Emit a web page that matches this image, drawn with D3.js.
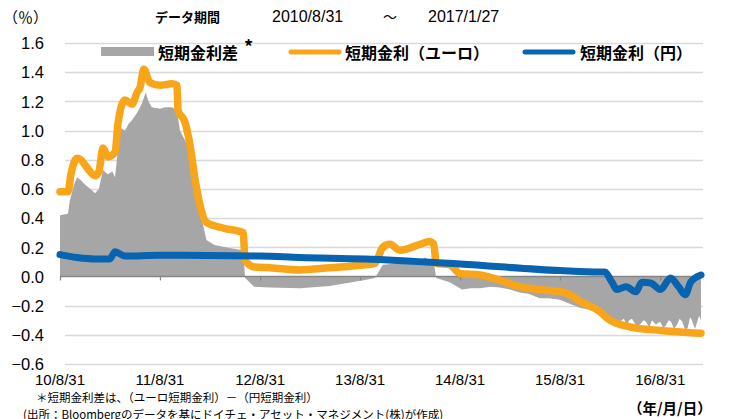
<!DOCTYPE html>
<html><head><meta charset="utf-8">
<script src="https://cdn.jsdelivr.net/npm/d3@7"></script>
<style>
body{margin:0;background:#fff;}
svg{display:block;}
</style></head>
<body>
<svg id="c" width="729" height="419"></svg>
<script>
// ---- data ----
const euroDates = ["2010-08-31","2010-09-29","2010-10-10","2010-11-01","2010-11-15","2010-12-10","2011-01-06","2011-01-20","2011-02-04","2011-02-22","2011-03-20","2011-03-31","2011-04-25","2011-05-21","2011-06-08","2011-06-20","2011-07-03","2011-07-25","2011-08-31","2011-10-13","2011-11-01","2011-11-05","2011-11-30","2011-12-18","2012-01-05","2012-01-23","2012-02-17","2012-04-22","2012-06-30","2012-07-07","2012-08-09","2012-10-06","2013-01-23","2013-05-12","2013-09-18","2013-10-24","2013-11-22","2013-12-18","2014-01-23","2014-04-06","2014-05-12","2014-05-27","2014-06-05","2014-07-24","2014-08-31","2014-11-12","2015-01-23","2015-04-06","2015-06-18","2015-09-18","2015-11-12","2016-01-23","2016-02-29","2016-05-12","2016-08-31","2016-11-12","2017-01-27"];
const euroValues = [0.58,0.58,0.70,0.81,0.80,0.74,0.69,0.72,0.88,0.82,0.85,1.05,1.21,1.18,1.26,1.30,1.42,1.33,1.31,1.32,1.31,1.14,1.06,0.91,0.68,0.50,0.37,0.33,0.30,0.11,0.065,0.06,0.045,0.06,0.08,0.09,0.20,0.22,0.18,0.22,0.24,0.22,0.09,0.08,0.02,0.01,-0.025,-0.07,-0.09,-0.11,-0.17,-0.24,-0.30,-0.345,-0.37,-0.38,-0.39];

const yenDates = ["2010-08-31","2010-11-01","2011-01-06","2011-03-01","2011-03-20","2011-04-25","2011-08-31","2012-08-31","2013-01-23","2013-09-18","2014-08-31","2015-08-31","2016-01-23","2016-02-10","2016-03-08","2016-03-26","2016-04-28","2016-06-03","2016-06-25","2016-07-27","2016-09-01","2016-10-08","2016-11-06","2016-12-01","2016-12-20","2017-01-27"];
const yenValues = [0.15,0.13,0.12,0.12,0.17,0.14,0.145,0.14,0.13,0.12,0.085,0.04,0.03,0.03,-0.04,-0.09,-0.07,-0.105,-0.04,-0.045,-0.09,-0.01,-0.07,-0.125,-0.04,0.01];

const spreadDates = ["2010-08-31","2010-09-29","2010-10-06","2010-10-20","2010-11-01","2010-11-15","2010-11-30","2010-12-20","2011-01-06","2011-01-20","2011-02-04","2011-02-15","2011-02-22","2011-03-10","2011-03-20","2011-04-08","2011-04-25","2011-05-10","2011-05-21","2011-06-08","2011-06-25","2011-07-10","2011-07-20","2011-08-01","2011-08-31","2011-09-20","2011-10-13","2011-11-01","2011-11-12","2011-12-07","2011-12-25","2012-01-23","2012-02-17","2012-03-17","2012-05-10","2012-06-30","2012-07-07","2012-08-09","2012-10-06","2013-01-23","2013-05-12","2013-09-18","2013-10-24","2013-11-22","2014-01-23","2014-04-06","2014-04-24","2014-05-27","2014-06-05","2014-07-24","2014-09-07","2014-10-10","2014-11-12","2014-12-20","2015-01-23","2015-03-01","2015-04-06","2015-05-10","2015-06-18","2015-07-20","2015-08-31","2015-10-10","2015-11-12","2015-12-20","2016-01-23","2016-02-29","2016-03-20","2016-04-06","2016-04-20","2016-05-01","2016-05-10","2016-05-20","2016-06-05","2016-06-18","2016-07-01","2016-07-10","2016-07-22","2016-08-01","2016-08-15","2016-08-31","2016-09-10","2016-09-20","2016-10-01","2016-10-10","2016-10-20","2016-11-01","2016-11-10","2016-11-20","2016-12-01","2016-12-10","2016-12-18","2016-12-25","2017-01-05","2017-01-10","2017-01-20","2017-01-27"];
const spreadValues = [0.42,0.43,0.52,0.62,0.68,0.66,0.63,0.60,0.57,0.60,0.73,0.71,0.70,0.72,0.68,1.02,1.00,1.05,1.07,1.12,1.18,1.26,1.20,1.16,1.15,1.16,1.16,1.14,1.00,0.91,0.73,0.46,0.25,0.215,0.195,0.18,-0.01,-0.07,-0.075,-0.08,-0.065,-0.025,-0.01,0.08,0.09,0.10,0.13,0.10,-0.01,-0.04,-0.09,-0.08,-0.08,-0.07,-0.075,-0.09,-0.11,-0.12,-0.15,-0.15,-0.16,-0.19,-0.215,-0.23,-0.25,-0.28,-0.30,-0.31,-0.29,-0.33,-0.30,-0.29,-0.34,-0.33,-0.30,-0.31,-0.35,-0.30,-0.33,-0.31,-0.35,-0.34,-0.30,-0.31,-0.36,-0.33,-0.29,-0.31,-0.37,-0.35,-0.28,-0.30,-0.36,-0.33,-0.27,-0.30];

const yTicks = [1.6,1.4,1.2,1.0,0.8,0.6,0.4,0.2,0.0,-0.2,-0.4,-0.6];
const xTickDates = ["2010-08-31","2011-08-31","2012-08-31","2013-08-31","2014-08-31","2015-08-31","2016-08-31"];
const xTickLabels = ["10/8/31","11/8/31","12/8/31","13/8/31","14/8/31","15/8/31","16/8/31"];
const legendLabels = ["短期金利差","短期金利（ユーロ）","短期金利（円）"];

// ---- setup ----
const parse = d3.timeParse("%Y-%m-%d");
const svg = d3.select("#c");
const L = 60, R = 701, T = 43, B = 364;
const x = d3.scaleTime().domain([parse("2010-08-31"), parse("2017-01-27")]).range([L, R]);
const y = d3.scaleLinear().domain([-0.6, 1.6]).range([B, T]);

const jp = "'Noto Sans CJK JP', sans-serif";
const num = "'Liberation Sans', Arial, sans-serif";
const narrow = "'Liberation Sans Narrow', 'Liberation Sans', Arial, sans-serif";
const cGrey = "#a6a6a6", cOrange = "#f9a51a", cBlue = "#0863b0";

const euro = euroDates.map((d,i)=>({d:parse(d), v:euroValues[i]}));
const yen = yenDates.map((d,i)=>({d:parse(d), v:yenValues[i]}));
const spread = spreadDates.map((d,i)=>({d:parse(d), v:spreadValues[i]}));

// gridlines
svg.append("g").selectAll("line").data(yTicks.filter(t=>t!==0)).join("line")
  .attr("x1", L+5).attr("x2", R+2)
  .attr("y1", d=>Math.round(y(d))+0.5).attr("y2", d=>Math.round(y(d))+0.5)
  .attr("stroke", "#d9d9d9").attr("stroke-width", 1.3);

// y axis labels
const yAxis = d3.axisLeft(y).tickValues(yTicks).tickSize(0).tickPadding(0).tickFormat(d3.format(".1f"));
const ga = svg.append("g").attr("transform", `translate(${L-16},0)`).call(yAxis);
ga.select(".domain").remove();
ga.selectAll("text").attr("font-family", num).attr("font-size", 16.5).attr("fill", "#000").attr("dy","0.35em");

// grey area
svg.append("path").datum(spread)
  .attr("d", d3.area().x(d=>x(d.d)).y0(y(0)).y1(d=>y(d.v)))
  .attr("fill", cGrey);

// zero axis
svg.append("line").attr("x1", L).attr("x2", R).attr("y1", y(0)).attr("y2", y(0))
  .attr("stroke", "#868686").attr("stroke-width", 1.5);
const xAxis = d3.axisBottom(x).tickValues(xTickDates.map(parse)).tickSize(4).tickFormat("");
const gx = svg.append("g").attr("transform", `translate(0,${y(0)})`).call(xAxis);
gx.select(".domain").remove();
gx.selectAll("line").attr("stroke", "#868686").attr("stroke-width", 1.2);

// lines
const line = d3.line().x(d=>x(d.d)).y(d=>y(d.v)).curve(d3.curveMonotoneX);
svg.append("path").datum(euro).attr("d", line).attr("fill","none")
  .attr("stroke", cOrange).attr("stroke-width", 7.5).attr("stroke-linejoin","round").attr("stroke-linecap","round");
svg.append("path").datum(yen).attr("d", line).attr("fill","none")
  .attr("stroke", cBlue).attr("stroke-width", 7).attr("stroke-linejoin","round").attr("stroke-linecap","round");

// x labels
svg.append("g").selectAll("text").data(xTickDates).join("text")
  .attr("x", d=>x(parse(d))).attr("y", 385).attr("text-anchor","middle")
  .attr("font-family", narrow).attr("font-size", 15).attr("fill","#000")
  .text((d,i)=>xTickLabels[i]);

// legend
const lg = svg.append("g");
lg.append("rect").attr("x",101).attr("y",47).attr("width",53).attr("height",9).attr("fill",cGrey);
lg.append("text").attr("x",158).attr("y",59).attr("font-family",jp).attr("font-weight","bold").attr("font-size",16).text(legendLabels[0]);
lg.append("text").attr("x",244).attr("y",54).attr("font-family",jp).attr("font-weight","bold").attr("font-size",18).text("*");
lg.append("line").attr("x1",291).attr("x2",339).attr("y1",52).attr("y2",52).attr("stroke",cOrange).attr("stroke-width",5).attr("stroke-linecap","round");
lg.append("text").attr("x",345).attr("y",59).attr("font-family",jp).attr("font-weight","bold").attr("font-size",16).text(legendLabels[1]);
lg.append("line").attr("x1",525).attr("x2",573).attr("y1",52).attr("y2",52).attr("stroke",cBlue).attr("stroke-width",5).attr("stroke-linecap","round");
lg.append("text").attr("x",580).attr("y",59).attr("font-family",jp).attr("font-weight","bold").attr("font-size",16).text(legendLabels[2]);

// header
svg.append("text").attr("x",3).attr("y",23).attr("font-family",jp).attr("font-size",15).text("（％）");
svg.append("text").attr("x",155).attr("y",22).attr("font-family",jp).attr("font-weight","bold").attr("font-size",13).text("データ期間");
svg.append("text").attr("x",272).attr("y",22).attr("font-family",narrow).attr("font-size",16).text("2010/8/31");
svg.append("text").attr("x",383).attr("y",22).attr("font-family",jp).attr("font-size",14).text("～");
svg.append("text").attr("x",428).attr("y",22).attr("font-family",narrow).attr("font-size",16).text("2017/1/27");

// footnotes
svg.append("text").attr("x",36).attr("y",402).attr("font-family",jp).attr("font-size",11.5).text("＊短期金利差は、（ユーロ短期金利）－（円短期金利）");
svg.append("text").attr("x",23).attr("y",419).attr("font-family",jp).attr("font-size",11.5).text("(出所：Bloombergのデータを基にドイチェ・アセット・マネジメント(株)が作成)");
svg.append("text").attr("x",628).attr("y",414).attr("font-family",jp).attr("font-weight","bold").attr("font-size",14.5).text("（年/月/日）");
</script>
</body></html>
